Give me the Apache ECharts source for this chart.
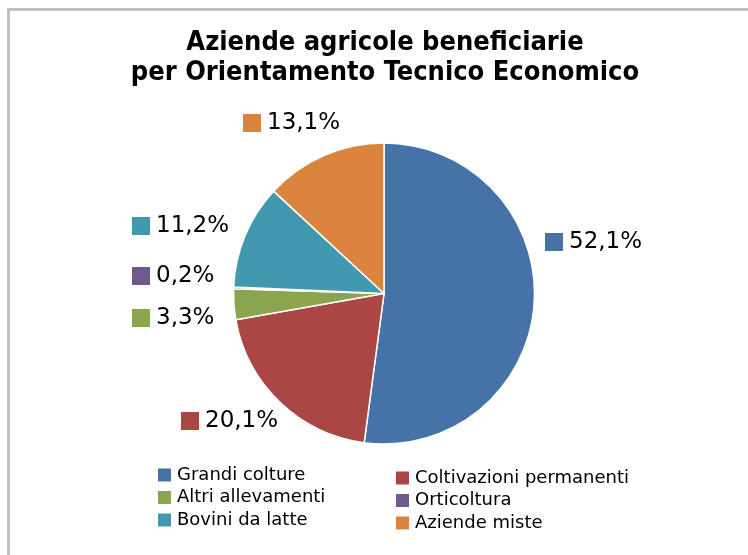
<!DOCTYPE html>
<html>
<head>
<meta charset="utf-8">
<style>
    html, body { margin: 0; padding: 0; background: #fff; }
    #chart { width: 748px; height: 555px; }
</style>
<script src="https://cdn.jsdelivr.net/npm/echarts@6/dist/echarts.min.js"></script>
</head>
<body>
<div id="chart"></div>
<script>
    // dati (percentuali per OTE)
    var categories = ['Grandi colture', 'Coltivazioni permanenti', 'Altri allevamenti', 'Orticoltura', 'Bovini da latte', 'Aziende miste'];
    var percentuali = [52.1, 20.1, 3.3, 0.2, 11.2, 13.1];
    var colori = ['#4572a7', '#aa4643', '#89a54e', '#71588f', '#4198af', '#db843d'];

    // posizione etichette (stile, come in Excel "adatta")
    var labelPos = [[545, 242], [181, 421], [132, 318], [132, 276], [132, 226], [243, 123]];

    var chart = echarts.init(document.getElementById('chart'));

    var rich = {
        t: { fontSize: 23, fontFamily: 'DejaVu Sans', color: '#000', padding: [0, 0, 0, 6] }
    };
    colori.forEach(function (c, i) {
        rich['s' + i] = { width: 18, height: 18, backgroundColor: c };
    });

    var option = {
        animation: false,
        color: colori,
        title: {
            text: 'Aziende agricole beneficiarie\nper Orientamento Tecnico Economico',
            left: 385,
            top: 28,
            padding: 0,
            textAlign: 'center',
            textStyle: {
                fontFamily: '"Liberation Sans Narrow", "DejaVu Sans Condensed", sans-serif',
                fontWeight: 'bold',
                fontSize: 27,
                lineHeight: 30,
                color: '#000'
            }
        },
        graphic: [{
            type: 'rect',
            shape: { x: 8.5, y: 9.5, width: 900, height: 700 },
            style: { fill: 'none', stroke: '#c3bfbb', lineWidth: 3 },
            silent: true
        }],
        legend: [{
            orient: 'vertical',
            left: 156,
            top: 466,
            padding: 0,
            itemWidth: 15,
            itemHeight: 15,
            itemGap: 4.5,
            icon: 'rect',
            data: [categories[0], categories[2], categories[4]],
            textStyle: { fontFamily: 'DejaVu Sans', fontSize: 18, lineHeight: 18, color: '#000' }
        }, {
            orient: 'vertical',
            left: 394,
            top: 469,
            padding: 0,
            itemWidth: 15,
            itemHeight: 15,
            itemGap: 4.5,
            icon: 'rect',
            data: [categories[1], categories[3], categories[5]],
            textStyle: { fontFamily: 'DejaVu Sans', fontSize: 18, lineHeight: 18, color: '#000' }
        }],
        series: [{
            type: 'pie',
            center: [384, 293.5],
            radius: [0, 150.5],
            startAngle: 90,
            clockwise: true,
            itemStyle: { borderColor: '#fff', borderWidth: 1.5 },
            label: {
                show: true,
                position: 'outside',
                formatter: function (p) {
                    return '{s' + p.dataIndex + '|}{t|' + p.value.toFixed(1).replace('.', ',') + '%}';
                },
                rich: rich
            },
            labelLine: { show: false },
            labelLayout: function (p) {
                var pos = labelPos[p.dataIndex];
                return { x: pos[0], y: pos[1], align: 'left', verticalAlign: 'middle' };
            },
            data: categories.map(function (c, i) {
                return { name: c, value: percentuali[i] };
            })
        }]
    };

    chart.setOption(option);
</script>
</body>
</html>
